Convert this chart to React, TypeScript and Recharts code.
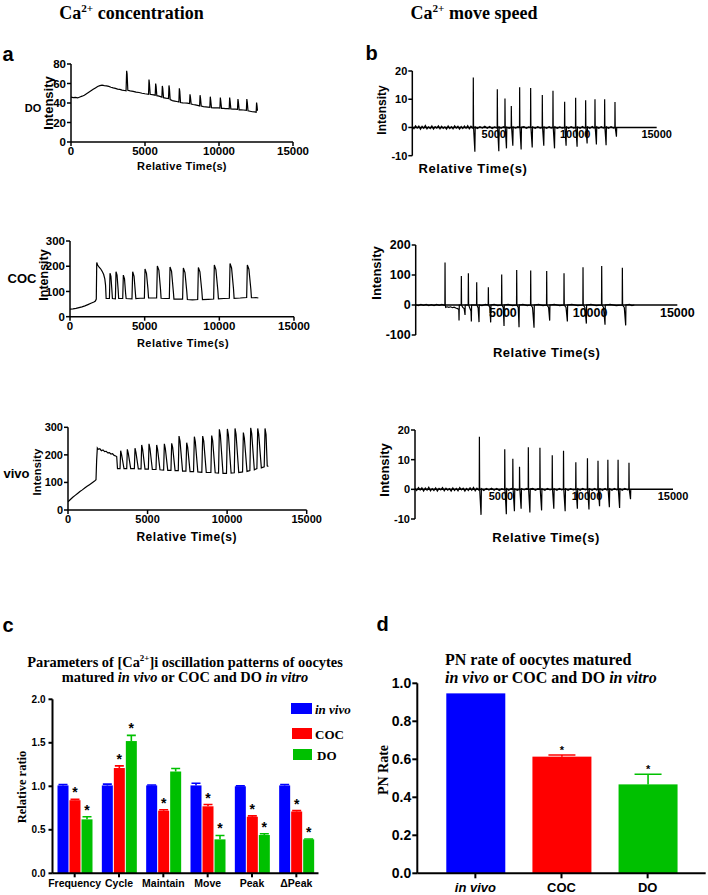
import React from 'react';
import { LineChart, Line, XAxis, YAxis, ReferenceLine, ReferenceDot, BarChart, Bar, Cell } from 'recharts';

const SANS = '"Liberation Sans", Arial, Helvetica, sans-serif';
const SERIF = '"Liberation Serif", "Times New Roman", Times, serif';
const BLUE = '#0000ff';
const RED = '#ff0000';
const GREEN = '#00c000';

// ---------------- panels a / b : traces ----------------
const timeTicks = [0, 5000, 10000, 15000];
const zeroAxisTicks = [5000, 10000, 15000];
const doConcTicks = [0, 20, 40, 60, 80];
const cocConcTicks = [0, 100, 200, 300];
const vivoConcTicks = [0, 100, 200, 300];
const doSpeedTicks = [-10, 0, 10, 20];
const cocSpeedTicks = [-100, 0, 100, 200];
const vivoSpeedTicks = [-10, 0, 10, 20];

const doConc: number[][] = [
  [0, 46], [150, 45.5], [300, 45.8], [450, 45.2], [600, 46.2], [750, 47], [900, 48], [1050, 49.5], [1200, 51],
  [1350, 52.5], [1500, 54], [1650, 55.5], [1800, 57], [1950, 57.8], [2100, 58.3], [2250, 57.8], [2400, 57.5],
  [2550, 57], [2700, 56.2], [2850, 55.5], [3000, 55], [3150, 54.2], [3300, 54], [3450, 53.2], [3600, 52.8],
  [3720, 52.5], [3760, 73], [3790, 70], [3840, 53], [4000, 52.5], [4200, 52], [4400, 51.2], [4600, 50.8],
  [4800, 50], [5000, 49.5], [5240, 49], [5270, 64], [5300, 60], [5350, 49], [5500, 48.5], [5690, 48],
  [5720, 60], [5750, 57], [5800, 47.5], [5950, 47], [6140, 46], [6170, 57.5], [6200, 55], [6250, 45.5],
  [6400, 45], [6590, 44.5], [6620, 58], [6650, 55], [6700, 43.5], [6850, 42.5], [7000, 42], [7150, 41.5],
  [7290, 41], [7320, 55], [7350, 52], [7400, 40.5], [7550, 40.2], [7700, 40], [7850, 39.8], [8010, 39.5],
  [8040, 49], [8070, 46], [8120, 39], [8250, 38.5], [8400, 38], [8550, 37.5], [8690, 37], [8720, 48],
  [8750, 45], [8800, 36.8], [8950, 36.2], [9100, 36], [9250, 35.8], [9380, 35.5], [9410, 46.5], [9440, 43],
  [9490, 35.2], [9650, 35], [9800, 35], [9950, 35], [10060, 34.8], [10090, 45.5], [10120, 42], [10170, 34.5],
  [10300, 34.5], [10450, 34.3], [10580, 34.2], [10690, 34], [10720, 45.5], [10750, 42], [10800, 34],
  [10950, 33.8], [11100, 33.7], [11250, 33.5], [11280, 44], [11310, 41], [11360, 33], [11500, 33],
  [11650, 32.8], [11850, 32.5], [11880, 44], [11910, 41], [11960, 32], [12100, 31.5], [12250, 31],
  [12400, 30.8], [12510, 30.5], [12540, 40.5], [12570, 37], [12600, 32],
];

const cocConc: number[][] = [
  [0, 30], [200, 31], [400, 33], [600, 36], [800, 39], [1000, 43], [1200, 48], [1400, 53], [1600, 58],
  [1700, 62], [1760, 70], [1790, 215], [1850, 205], [1950, 196], [2050, 190], [2150, 180], [2250, 168],
  [2330, 150], [2380, 125], [2420, 72],
  [2640, 72], [2679, 172], [2740, 160], [2800, 110], [2840, 72],
  [3040, 71], [3081, 178], [3150, 165], [3220, 110], [3260, 72],
  [3530, 72], [3572, 165], [3650, 150], [3720, 95], [3760, 72],
  [4150, 71], [4197, 178], [4290, 160], [4370, 100], [4410, 72],
  [4700, 73], [4980, 73], [5023, 189], [5120, 172], [5220, 110], [5260, 74],
  [5550, 74], [5800, 74], [5849, 201], [5950, 185], [6060, 110], [6100, 73],
  [6400, 72], [6650, 72], [6698, 197], [6800, 180], [6920, 100], [6960, 70],
  [7250, 70], [7540, 70], [7591, 193], [7700, 175], [7820, 100], [7860, 68],
  [8200, 67], [8550, 68], [8597, 195], [8700, 178], [8830, 100], [8870, 68],
  [9250, 69], [9620, 70], [9665, 205], [9770, 187], [9900, 105], [9940, 71],
  [10300, 72], [10670, 73], [10717, 211], [10820, 193], [10950, 110], [10990, 73],
  [11400, 74], [11830, 76], [11876, 205], [11980, 188], [12110, 110], [12150, 75],
  [12300, 75], [12450, 76], [12612, 74],
];

const vivoConc: number[][] = [
  [0, 30], [150, 38], [300, 46], [450, 53], [600, 60], [750, 67], [900, 73], [1050, 80], [1200, 86],
  [1350, 92], [1500, 98], [1650, 104], [1760, 110], [1800, 180], [1843, 225], [1900, 220], [2000, 222],
  [2100, 215], [2200, 218], [2300, 212], [2400, 213], [2500, 207], [2600, 208], [2700, 203], [2800, 204],
  [2900, 198], [3000, 196], [3060, 194], [3110, 150],
  [3270, 150], [3310, 215], [3370, 200], [3520, 150],
  [3690, 150], [3729, 220], [3790, 205], [3940, 150],
  [4170, 150], [4211, 224], [4270, 209], [4420, 149],
  [4590, 149], [4630, 236], [4690, 220], [4840, 148],
  [5050, 148], [5091, 240], [5150, 224], [5300, 147],
  [5530, 147], [5573, 236], [5630, 220], [5780, 146],
  [6010, 145], [6055, 240], [6115, 224], [6270, 144],
  [6470, 144], [6516, 242], [6580, 226], [6730, 143],
  [6930, 143], [6977, 268], [7040, 250], [7200, 141],
  [7410, 141], [7459, 244], [7520, 228], [7670, 139],
  [7890, 139], [7941, 266], [8000, 248], [8160, 138],
  [8410, 137], [8464, 268], [8530, 250], [8690, 136],
  [8980, 136], [9030, 270], [9090, 252], [9250, 135],
  [9460, 134], [9512, 293], [9575, 272], [9740, 133],
  [9960, 133], [10015, 294], [10080, 273], [10250, 134],
  [10450, 135], [10497, 296], [10560, 275], [10730, 136],
  [10970, 138], [11020, 281], [11080, 262], [11250, 140],
  [11430, 143], [11482, 298], [11545, 277], [11710, 146],
  [11870, 150], [11922, 296], [11985, 275], [12150, 153],
  [12330, 157], [12382, 296], [12445, 275], [12520, 160], [12590, 158],
];

const doSpeed: number[][] = [
  [0, 0.3], [100, -0.4], [200, 0.6], [300, -0.2], [400, 0.5], [500, -0.6], [600, 0.4], [700, -0.3], [800, 0.7],
  [900, -0.5], [1000, 0.2], [1100, -0.4], [1200, 0.5], [1300, -0.6], [1400, 0.3], [1500, -0.2], [1600, 0.6],
  [1700, -0.5], [1800, 0.4], [1900, -0.3], [2000, 0.2], [2100, -0.6], [2200, 0.5], [2300, -0.4], [2400, 0.3],
  [2500, -0.5], [2600, 0.6], [2700, -0.2], [2800, 0.4], [2900, -0.6], [3000, 0.3], [3100, -0.4], [3200, 0.5],
  [3300, -0.3], [3400, 0.6], [3500, -0.5], [3600, 0.4], [3700, -0.2],
  [3735, 0.2], [3744, 17.7], [3760, 0], [3840, -8.6], [3860, 0.2],
  [4000, -0.4], [4150, 0.3], [4300, -0.2], [4450, 0.4], [4600, -0.3], [4750, 0.3], [4900, -0.4], [5050, 0.2], [5200, -0.2],
  [5210, 0.2], [5218, 13.5], [5235, 0], [5310, -8.4], [5330, 0.2],
  [5450, -0.3], [5600, 0.3],
  [5680, 0], [5688, 10.3], [5705, 0], [5780, -7.4], [5800, 0.1],
  [5950, -0.3],
  [6070, 0], [6077, 7.6], [6095, 0], [6170, -6.5], [6190, 0.2],
  [6350, -0.2], [6480, 0.3],
  [6580, 0], [6589, 14.2], [6605, 0], [6680, -7.8], [6700, 0.1],
  [6850, 0.3], [7000, -0.3], [7150, 0.2],
  [7255, 0], [7264, 14], [7280, 0], [7360, -7.1], [7380, 0.2],
  [7550, -0.3], [7700, 0.3], [7850, -0.2],
  [7970, 0], [7980, 11.5], [7995, 0], [8070, -6.5], [8090, 0.2],
  [8250, -0.3], [8400, 0.3], [8520, -0.2],
  [8625, 0], [8635, 13], [8650, 0], [8730, -7.4], [8750, 0.2],
  [8900, -0.3], [9050, 0.2], [9200, -0.2],
  [9340, 0], [9351, 9.1], [9365, 0], [9440, -6.5], [9460, 0.2],
  [9600, -0.3], [9750, 0.3], [9900, -0.2],
  [10015, 0], [10026, 10.5], [10040, 0], [10115, -6.8], [10135, 0.2],
  [10300, -0.3], [10450, 0.3], [10550, -0.2],
  [10630, 0], [10640, 9.6], [10655, 0], [10730, -5.7], [10750, 0.2],
  [10900, -0.3], [11050, 0.3], [11150, -0.2],
  [11203, 0], [11213, 10], [11228, 0], [11300, -6], [11320, 0.2],
  [11450, -0.3], [11600, 0.3], [11720, -0.2],
  [11797, 0], [11807, 10], [11822, 0], [11895, -6.3], [11915, 0.2],
  [12050, -0.3], [12200, 0.3], [12350, -0.2],
  [12431, 0], [12441, 9], [12456, 0], [12530, -3.3], [12545, 0],
];

const cocSpeed: number[][] = [
  [0, 1], [150, -2], [300, 2], [450, -1], [600, 2], [750, -2], [900, 1], [1050, -2], [1200, 2], [1350, -1],
  [1500, 2], [1650, -1],
  [1672, 0], [1682, 142], [1695, 0], [1720, -8], [1800, -6], [1900, -8], [2000, -6], [2100, -9], [2200, -7],
  [2300, -10], [2400, -12], [2470, -15], [2485, -52], [2500, 0],
  [2608, 0], [2618, 97], [2630, 0], [2700, -8], [2780, -12], [2829, -33], [2840, 0],
  [3010, 0], [3020, 106], [3035, 0], [3100, -10], [3170, -20], [3192, -55], [3205, 0],
  [3488, 0], [3498, 76], [3510, 0], [3580, -10], [3631, -57], [3645, 0],
  [3800, -2], [4000, 2],
  [4156, 0], [4166, 59], [4178, 0], [4250, -8], [4300, -58], [4315, 0],
  [4500, 2], [4700, -2],
  [4921, 0], [4931, 102], [4945, 0], [5020, -8], [5065, -70], [5080, 0],
  [5300, 2], [5550, -2],
  [5781, 0], [5791, 117], [5805, 0], [5880, -8], [5925, -74], [5940, 0],
  [6150, 2], [6400, -2],
  [6584, 0], [6594, 115], [6608, 0], [6700, -8], [6785, -76], [6800, 0],
  [7050, 2], [7300, -2],
  [7501, 0], [7511, 113], [7525, 0], [7620, -8], [7683, -52], [7697, 0],
  [7950, 2], [8250, -2],
  [8495, 0], [8505, 106], [8520, 0], [8620, -8], [8697, -55], [8710, 0],
  [8950, 2], [9300, -2],
  [9584, 0], [9594, 126], [9608, 0], [9700, -8], [9786, -62], [9800, 0],
  [10050, 2], [10350, -2],
  [10655, 0], [10665, 130], [10680, 0], [10770, -8], [10856, -66], [10870, 0],
  [11150, 2], [11500, -2],
  [11840, 0], [11850, 124], [11865, 0], [11960, -8], [12041, -68], [12055, 0],
  [12250, 2], [12400, -2], [12535, 0],
];

// the in vivo speed trace in the reference is the same recording as the DO one
const vivoSpeed: number[][] = doSpeed;

// ---------------- panel c ----------------
const cCategories = ['Frequency', 'Cycle', 'Maintain', 'Move', 'Peak', '\u0394Peak'];
const cVivo = [1.01, 1.01, 1.01, 1.01, 1.0, 1.01];
const cVivoErr = [0.01, 0.015, 0.005, 0.025, 0.005, 0.01];
const cCoc = [0.84, 1.21, 0.72, 0.77, 0.65, 0.71];
const cCocErr = [0.01, 0.025, 0.01, 0.02, 0.01, 0.01];
const cDo = [0.62, 1.52, 1.17, 0.39, 0.44, 0.39];
const cDoErr = [0.03, 0.065, 0.035, 0.045, 0.015, 0.005];
const cVivoSig = [false, false, false, false, false, false];
const cCocSig = [true, true, true, true, true, true];
const cDoSig = [true, true, false, true, true, true];
const cTicks = [0, 0.5, 1, 1.5, 2];

// ---------------- panel d ----------------
const dCategories = ['in vivo', 'COC', 'DO'];
const dRate = [0.947, 0.614, 0.468];
const dErr = [0, 0.009, 0.053];
const dSig = [false, true, true];
const dTicks = [0, 0.2, 0.4, 0.6, 0.8, 1.0];

// ---------------- components ----------------
type TraceCfg = {
  data: number[][]; left: number; top: number; plotRight: number; height: number;
  yw: number; mt: number; mb: number; xh: number; yDomain: [number, number]; yTicks: number[];
  fs: number; zero?: boolean;
};

const RIGHT_PAD = 26;

function Trace(c: TraceCfg) {
  const tick = { fontFamily: SANS, fontWeight: 700, fontSize: c.fs, fill: '#000' };
  const axis = { stroke: '#000', strokeWidth: 1.5 };
  const rows = c.data.map(([t, v]) => ({ t, v }));
  const width = c.plotRight - c.left + RIGHT_PAD;
  return (
    <div style={{ position: 'absolute', left: c.left, top: c.top }}>
      <LineChart width={width} height={c.height} data={rows} margin={{ top: c.mt, right: RIGHT_PAD, bottom: c.mb, left: 0 }}>
        <XAxis type="number" dataKey="t" domain={[0, 15000]} ticks={timeTicks} interval={0} hide={!!c.zero}
          height={c.xh} axisLine={axis} tickLine={axis} tickSize={4} tickMargin={1} tick={tick} allowDataOverflow />
        <YAxis type="number" domain={c.yDomain} ticks={c.yTicks} interval={0} width={c.yw} axisLine={axis}
          tickLine={axis} tickSize={4} tickMargin={1} tick={tick} allowDataOverflow />
        {c.zero && <ReferenceLine y={0} stroke="#000" strokeWidth={1.5} />}
        {c.zero && zeroAxisTicks.map((v) => (
          <ReferenceDot key={v} x={v} y={0} r={0} fill="none" stroke="none"
            label={{ value: String(v), position: 'bottom', offset: 3, ...tick }} />
        ))}
        <Line type="linear" dataKey="v" stroke="#000" strokeWidth={1.2} dot={false} activeDot={false} isAnimationActive={false} />
      </LineChart>
    </div>
  );
}

type TxtProps = {
  x: number; y: number; size: number; serif?: boolean; italic?: boolean; rotate?: number;
  align?: 'center' | 'left'; ls?: number; children: React.ReactNode;
};
function Txt({ x, y, size, serif, italic, rotate, align = 'center', ls, children }: TxtProps) {
  const tx = align === 'center' ? '-50%' : '0%';
  return (
    <div style={{
      position: 'absolute', left: x, top: y,
      transform: `translate(${tx}, -50%)${rotate ? ` rotate(${rotate}deg)` : ''}`,
      fontFamily: serif ? SERIF : SANS, fontSize: size, fontWeight: 700,
      fontStyle: italic ? 'italic' : 'normal', lineHeight: 1, whiteSpace: 'nowrap',
      letterSpacing: ls ?? 0, color: '#000',
    }}>{children}</div>
  );
}

const Sup = ({ children }: { children: React.ReactNode }) => (
  <span style={{ fontSize: '0.62em', verticalAlign: '0.6em', lineHeight: 0 }}>{children}</span>
);

const cRows = cCategories.map((cat, i) => ({
  cat, vivo: cVivo[i], vivoErr: cVivoErr[i], coc: cCoc[i], cocErr: cCocErr[i], dov: cDo[i], doErr: cDoErr[i],
}));
const dRows = dCategories.map((cat, i) => ({ cat, rate: dRate[i], err: dErr[i] }));

const barShape = (valKey: string, errKey: string, sig: boolean[], cap: number, starSize: number, lift: number) =>
  (p: any) => {
    const { x, y, width, height, fill, index, payload } = p;
    const val = payload[valKey];
    const err = payload[errKey] || 0;
    const ppu = val ? height / val : 0;
    const ey = y - err * ppu;
    const cx = x + width / 2;
    return (
      <g>
        <rect x={x} y={y} width={width} height={height} fill={fill} />
        {err > 0 && <line x1={cx} x2={cx} y1={y} y2={ey} stroke={fill} strokeWidth={1.6} />}
        {err > 0 && <line x1={cx - cap / 2} x2={cx + cap / 2} y1={ey} y2={ey} stroke={fill} strokeWidth={1.6} />}
        {sig[index] && (
          <text x={cx} y={ey - lift} textAnchor="middle" fontSize={starSize} fontWeight={700} fontFamily={SANS} fill="#000">*</text>
        )}
      </g>
    );
  };

const dColors = [BLUE, RED, GREEN];

export default function App() {
  const axis2 = { stroke: '#000', strokeWidth: 2 };
  const cTick = { fontFamily: SANS, fontWeight: 700, fontSize: 10, fill: '#000' };
  const cXTick = { fontFamily: SANS, fontWeight: 700, fontSize: 10.5, fill: '#000' };
  const dTick = { fontFamily: SANS, fontWeight: 700, fontSize: 14, fill: '#000' };
  const DXTick = (p: any) => {
    const { x, y, payload } = p;
    const it = payload.value === 'in vivo';
    return (
      <text x={x} y={y} dy="0.71em" textAnchor="middle" fontFamily={SANS} fontWeight={700} fontSize={13}
        fontStyle={it ? 'italic' : 'normal'} fill="#000">{payload.value}</text>
    );
  };
  return (
    <div style={{ position: 'absolute', left: 0, top: 0, width: 708, height: 895, background: '#fff', overflow: 'hidden' }}>
      {/* panel a */}
      <Trace data={doConc} left={0} top={40} plotRight={293} height={132} yw={71} mt={24} mb={0} xh={30}
        yDomain={[0, 80]} yTicks={doConcTicks} fs={11.5} />
      <Trace data={cocConc} left={0} top={220} plotRight={294} height={126.7} yw={70} mt={21} mb={0} xh={30}
        yDomain={[0, 300]} yTicks={cocConcTicks} fs={11.5} />
      <Trace data={vivoConc} left={0} top={405} plotRight={306.7} height={135} yw={68} mt={22.3} mb={0} xh={30}
        yDomain={[0, 300]} yTicks={vivoConcTicks} fs={11} />
      {/* panel b */}
      <Trace data={doSpeed} left={354} top={50} plotRight={656.7} height={117.7} yw={58.3} mt={21} mb={12} xh={0}
        yDomain={[-10, 20]} yTicks={doSpeedTicks} fs={11} zero />
      <Trace data={cocSpeed} left={354} top={225} plotRight={677.3} height={122} yw={61.7} mt={20} mb={12} xh={0}
        yDomain={[-100, 200]} yTicks={cocSpeedTicks} fs={12.5} zero />
      <Trace data={vivoSpeed} left={354} top={410} plotRight={673} height={121} yw={61} mt={20} mb={12} xh={0}
        yDomain={[-10, 20]} yTicks={vivoSpeedTicks} fs={11} zero />

      {/* panel c */}
      <div style={{ position: 'absolute', left: 0, top: 690 }}>
        <BarChart width={323.5} height={208.3} data={cRows} margin={{ top: 9.3, right: 5, bottom: 0, left: 0 }} barSize={11} barGap={1}>
          <XAxis dataKey="cat" type="category" height={25} interval={0} axisLine={axis2} tickLine={axis2} tickSize={4} tickMargin={2} tick={cXTick} />
          <YAxis type="number" domain={[0, 2]} ticks={cTicks} interval={0} width={52.5} axisLine={axis2} tickLine={axis2}
            tickSize={4} tickMargin={3} tick={cTick} tickFormatter={(v: number) => v.toFixed(1)} allowDataOverflow />
          <Bar dataKey="vivo" fill={BLUE} isAnimationActive={false} shape={barShape('vivo', 'vivoErr', cVivoSig, 9, 14, 2)} />
          <Bar dataKey="coc" fill={RED} isAnimationActive={false} shape={barShape('coc', 'cocErr', cCocSig, 9, 14, 2)} />
          <Bar dataKey="dov" fill={GREEN} isAnimationActive={false} shape={barShape('dov', 'doErr', cDoSig, 9, 14, 2)} />
        </BarChart>
      </div>

      {/* panel d */}
      <div style={{ position: 'absolute', left: 354, top: 675 }}>
        <BarChart width={353.7} height={220.3} data={dRows} margin={{ top: 8.3, right: 2, bottom: 0, left: 0 }} barSize={59}>
          <XAxis dataKey="cat" type="category" height={22} interval={0} axisLine={axis2} tickLine={axis2} tickSize={5}
            tickMargin={4} tick={<DXTick />} padding={{ left: 15, right: 15 }} />
          <YAxis type="number" domain={[0, 1]} ticks={dTicks} interval={0} width={63.3} axisLine={axis2} tickLine={axis2}
            tickSize={5} tickMargin={1} tick={dTick} tickFormatter={(v: number) => v.toFixed(1)} allowDataOverflow />
          <Bar dataKey="rate" isAnimationActive={false} shape={barShape('rate', 'err', dSig, 27, 11, 1)}>
            {dRows.map((r, i) => <Cell key={r.cat} fill={dColors[i]} />)}
          </Bar>
        </BarChart>
      </div>

      {/* headers */}
      <Txt x={131.5} y={13} size={18} serif>Ca<Sup>2+</Sup> concentration</Txt>
      <Txt x={474} y={13} size={18} serif>Ca<Sup>2+</Sup> move speed</Txt>
      <Txt x={8} y={54} size={20}>a</Txt>
      <Txt x={371.5} y={53} size={20}>b</Txt>
      <Txt x={8} y={625} size={20}>c</Txt>
      <Txt x={382.5} y={624} size={20}>d</Txt>

      {/* panel a labels */}
      <Txt x={33} y={108} size={11}>DO</Txt>
      <Txt x={48} y={103} size={13} rotate={-90}>Intensity</Txt>
      <Txt x={182} y={166} size={11} ls={0.35}>Relative Time(s)</Txt>
      <Txt x={22} y={278} size={13}>COC</Txt>
      <Txt x={44} y={275} size={12.5} rotate={-90}>Intensity</Txt>
      <Txt x={183} y={342.7} size={11} ls={0.5}>Relative Time(s)</Txt>
      <Txt x={16.5} y={473} size={13}>vivo</Txt>
      <Txt x={36.7} y={472} size={11} ls={0.2} rotate={-90}>Intensity</Txt>
      <Txt x={186.7} y={537.3} size={12} ls={0.55}>Relative Time(s)</Txt>

      {/* panel b labels */}
      <Txt x={382} y={110} size={12} rotate={-90}>Intensity</Txt>
      <Txt x={473} y={168} size={13} ls={0.6}>Relative Time(s)</Txt>
      <Txt x={376} y={273} size={13} rotate={-90}>Intensity</Txt>
      <Txt x={546.7} y={352} size={13} ls={0.5}>Relative Time(s)</Txt>
      <Txt x={384} y={470} size={13} rotate={-90}>Intensity</Txt>
      <Txt x={546} y={537} size={13} ls={0.5}>Relative Time(s)</Txt>

      {/* panel c labels */}
      <Txt x={185} y={661.7} size={14.4} serif>Parameters of [Ca<Sup>2+</Sup>]i oscillation patterns of oocytes</Txt>
      <Txt x={185} y={677} size={14.4} serif>matured <i>in vivo</i> or COC and DO <i>in vitro</i></Txt>
      <Txt x={22} y={787} size={12.5} serif rotate={-90}>Relative ratio</Txt>
      <div style={{ position: 'absolute', left: 291, top: 703, width: 21, height: 11, background: BLUE }} />
      <div style={{ position: 'absolute', left: 292, top: 728, width: 20, height: 11, background: RED }} />
      <div style={{ position: 'absolute', left: 293, top: 749, width: 19, height: 11, background: GREEN }} />
      <Txt x={315} y={708.5} size={13} serif italic align="left">in vivo</Txt>
      <Txt x={315} y={733.5} size={13} serif align="left">COC</Txt>
      <Txt x={317} y={754.5} size={13} serif align="left">DO</Txt>

      {/* panel d labels */}
      <Txt x={445} y={660} size={16} serif align="left">PN rate of oocytes matured</Txt>
      <Txt x={445} y={678.3} size={16} serif align="left"><i>in vivo</i> or COC and DO <i>in vitro</i></Txt>
      <Txt x={384} y={770} size={14} serif rotate={-90}>PN Rate</Txt>
    </div>
  );
}
